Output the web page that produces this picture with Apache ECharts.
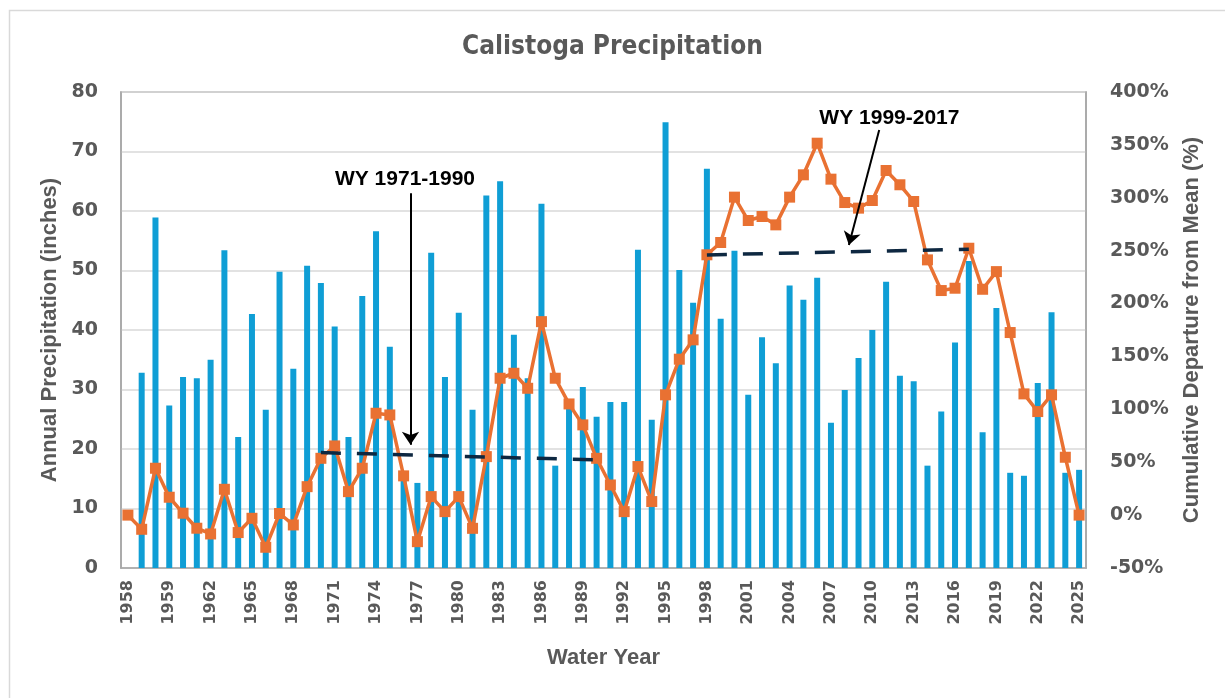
<!DOCTYPE html>
<html>
<head>
<meta charset="utf-8">
<script src="https://cdn.jsdelivr.net/npm/echarts@6/dist/echarts.min.js"></script>
<style>
  html, body { margin: 0; padding: 0; background: #fff; }
  #chart { width: 1225px; height: 698px; }
</style>
</head>
<body>
<div id="chart"></div>
<script>
// 横轴：第一格是起点（1958），之后为各水文年
const waterYears = ['1958'].concat(Array.from({ length: 69 }, (_, i) => String(1957 + i)))

// 年降水量 (inches)，第一格没有柱
const precipitation = [
  null, 32.8, 58.9, 27.3, 32.1, 31.9, 35.0, 53.4, 22.0, 42.7,
  26.6, 49.8, 33.5, 50.8, 47.9, 40.6, 22.0, 45.7, 56.6, 37.2,
  16.0, 14.3, 53.0, 32.1, 42.9, 26.6, 62.6, 65.0, 39.2, 31.9,
  61.2, 17.2, 28.0, 30.4, 25.4, 27.9, 27.9, 53.5, 24.9, 74.9,
  50.1, 44.6, 67.1, 41.9, 53.3, 29.1, 38.8, 34.4, 47.5, 45.1,
  48.8, 24.4, 29.9, 35.3, 40.0, 48.1, 32.3, 31.4, 17.2, 26.3,
  37.9, 51.6, 22.8, 43.7, 16.0, 15.5, 31.1, 43.0, 16.0, 16.5
]

// 累计距平 (%)
const cumulativeDeparture = [
  0, -13.4, 44.3, 16.9, 1.8, -12.4, -17.8, 24.4, -16.5, -3.0,
  -30.4, 1.5, -9.3, 26.9, 53.7, 65.4, 22.2, 44.3, 96.3, 94.7,
  37.1, -25.1, 17.5, 3.3, 17.5, -12.5, 55.3, 129.4, 134.1, 119.9,
  182.9, 129.4, 105.1, 85.3, 53.7, 28.5, 3.3, 45.9, 12.8, 113.7,
  147.4, 165.7, 246.1, 257.7, 300.6, 278.5, 282.3, 274.4, 300.6, 321.7,
  351.6, 317.6, 295.5, 290.2, 297.4, 325.8, 312.3, 296.5, 241.3, 212.3,
  214.5, 252.3, 213.5, 230.2, 172.6, 114.6, 97.9, 113.7, 54.7, 0
]

// 趋势线：[类目序号, %]
const trend1971to1990 = [[14, 59.1], [34, 52.2]]
const trend1999to2017 = [[42, 246.0], [61, 251.4]]

// 注释箭头与文字（类目序号可为小数）
const arrow1971 = [[20.5, 304.3], [20.5, 66.4]]
const arrow1999 = [[54.5, 364.1], [52.3, 255.4]]
const label1971 = [20.1, 317.8]
const label1999 = [55.24, 375.2]

const gray = '#595959'
const axisFont = 'DejaVu Sans'
const nameFont = { color: gray, fontFamily: 'Liberation Sans', fontWeight: 'bold', fontSize: 22 }

let myChart = echarts.init(document.getElementById('chart'))

function annotation (text, labelPos, arrow) {
  return {
    markLine: {
      silent: true,
      symbol: ['none', 'arrow'],
      symbolSize: 13,
      lineStyle: { color: '#000', width: 2, type: 'solid' },
      label: { show: false },
      data: [[{ coord: arrow[0] }, { coord: arrow[1] }]]
    },
    markPoint: {
      silent: true,
      data: [{
        coord: labelPos,
        symbol: 'rect',
        symbolSize: 1,
        itemStyle: { color: 'rgba(0,0,0,0)' },
        label: {
          show: true,
          position: 'inside',
          formatter: text,
          color: '#000',
          fontFamily: 'Liberation Sans',
          fontWeight: 'bold',
          fontSize: 21
        }
      }]
    }
  }
}

let options = {
  animation: false,
  backgroundColor: '#fff',
  title: {
    text: 'Calistoga Precipitation',
    left: 'center',
    top: 29,
    textStyle: {
      color: gray,
      fontFamily: '"DejaVu Sans Condensed", Roboto, sans-serif',
      fontWeight: 'bold',
      fontSize: 26
    }
  },
  graphic: [{
    type: 'rect',
    left: 7,
    top: 8,
    shape: { width: 1240, height: 720 },
    style: { fill: 'none', stroke: '#d9d9d9', lineWidth: 1.5 },
    silent: true
  }],
  grid: {
    left: 121,
    right: 139,
    top: 92,
    bottom: 130,
    show: true,
    borderColor: '#a6a6a6',
    borderWidth: 1.5
  },
  xAxis: [
    {
      type: 'category',
      data: waterYears,
      boundaryGap: true,
      name: 'Water Year',
      nameLocation: 'middle',
      nameGap: 79,
      nameTextStyle: nameFont,
      axisLine: { onZero: false, lineStyle: { color: '#a6a6a6', width: 1.5 } },
      axisTick: { show: false },
      axisLabel: {
        interval: 2,
        rotate: 90,
        margin: 12,
        color: gray,
        fontFamily: axisFont,
        fontWeight: 'bold',
        fontSize: 16
      }
    },
    {
      // 注释用的隐藏数值轴，与类目中心对齐
      type: 'value',
      min: -0.5,
      max: 69.5,
      show: false
    }
  ],
  yAxis: [
    {
      type: 'value',
      min: 0,
      max: 80,
      interval: 10,
      name: 'Annual Precipitation (inches)',
      nameLocation: 'middle',
      nameGap: 58,
      nameTextStyle: nameFont,
      axisLine: { show: true, onZero: false, lineStyle: { color: '#a6a6a6', width: 1.5 } },
      axisTick: { show: false },
      splitLine: { lineStyle: { color: '#d9d9d9', width: 1.5 } },
      axisLabel: { margin: 23, color: gray, fontFamily: axisFont, fontWeight: 'bold', fontSize: 19 }
    },
    {
      type: 'value',
      min: -50,
      max: 400,
      interval: 50,
      name: 'Cumulative Departure from Mean (%)',
      nameLocation: 'middle',
      nameGap: 95,
      nameRotate: 90,
      nameTextStyle: nameFont,
      axisLine: { show: true, onZero: false, lineStyle: { color: '#a6a6a6', width: 1.5 } },
      axisTick: { show: false },
      splitLine: { show: false },
      axisLabel: {
        margin: 24,
        color: gray,
        fontFamily: axisFont,
        fontWeight: 'bold',
        fontSize: 19,
        formatter: '{value}%'
      }
    }
  ],
  series: [
    {
      type: 'bar',
      name: 'Annual Precipitation',
      data: precipitation,
      barWidth: 6,
      itemStyle: { color: '#0F9ED5' },
      z: 2
    },
    {
      type: 'line',
      name: 'Cumulative Departure',
      yAxisIndex: 1,
      data: cumulativeDeparture,
      symbol: 'rect',
      symbolSize: 11,
      showAllSymbol: true,
      lineStyle: { color: '#E97132', width: 3.5 },
      itemStyle: { color: '#E97132' },
      z: 3
    },
    Object.assign({
      type: 'line',
      name: 'WY 1971-1990',
      xAxisIndex: 1,
      yAxisIndex: 1,
      data: trend1971to1990,
      symbol: 'none',
      lineStyle: { color: '#0E2841', width: 3.5, type: [20, 16] },
      z: 4
    }, annotation('WY 1971-1990', label1971, arrow1971)),
    Object.assign({
      type: 'line',
      name: 'WY 1999-2017',
      xAxisIndex: 1,
      yAxisIndex: 1,
      data: trend1999to2017,
      symbol: 'none',
      lineStyle: { color: '#0E2841', width: 3.5, type: [20, 16] },
      z: 4
    }, annotation('WY 1999-2017', label1999, arrow1999))
  ]
}
myChart.setOption(options)
</script>
</body>
</html>
